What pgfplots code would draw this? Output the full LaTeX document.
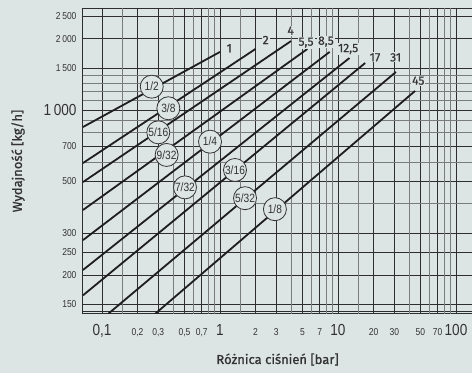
\documentclass[border=0pt]{standalone}
\usepackage{fontspec}
\usepackage{pgfplots}
\pgfplotsset{compat=1.18}
\setmainfont{Fira Sans}
\newfontfamily\narrowfont[FakeStretch=0.85]{Liberation Sans}
\newfontfamily\titlefont[FakeBold=1]{Fira Sans}
\newfontfamily\labfont[FakeBold=0.6]{Fira Sans}
\definecolor{bgc}{HTML}{DDE4E4}
\definecolor{griddark}{HTML}{2E2E2E}
\definecolor{gridgray}{HTML}{7A7C7C}
\definecolor{linec}{HTML}{1E1E1E}
\definecolor{txt}{HTML}{333333}
\begin{document}
\begin{tikzpicture}
\useasboundingbox (-83pt,-59pt) rectangle (389pt,314pt);
\fill[bgc] (-83pt,-59pt) rectangle (389pt,314pt);
\begin{axis}[
  at={(0,0)}, anchor=south west,
  scale only axis, width=389pt, height=306pt,
  xmode=log, ymode=log,
  xmin=0.069, xmax=136.7, ymin=136.7, ymax=2704,
  axis x line*=bottom, axis y line*=left,
  axis line style={-, griddark, line width=1pt},
  major tick length=0pt, tick style={draw=none},
  grid=major,
  major grid style={griddark, line width=0.9pt},
  xtick={0.1,0.2,0.3,0.5,0.7,1,2,3,5,7,10,20,30,50,70,100},
  xticklabels={{\fontsize{16}{16}\selectfont 0,1},{0,2},{0,3},{0,5},{0,7},{\fontsize{16}{16}\selectfont 1},2,3,5,7,{\fontsize{16}{16}\selectfont 10},20,30,50,70,{\fontsize{16}{16}\selectfont 100}},
  extra x ticks={0.15,0.4,0.6,0.8,0.9,1.5,4,6,8,9,15,40,60,80,90},
  extra x tick labels={},
  extra x tick style={major grid style={gridgray, line width=0.9pt}},
  ytick={140,150,200,250,300,500,700,1000,1500,2000,2500,2704},
  yticklabels={,150,200,250,300,500,700,{\fontsize{16}{16}\selectfont 1\,000},{1\,500},{2\,000},{2\,500},},
  extra y ticks={400,600,800,900,1100,1200,1300,1400},
  extra y tick labels={},
  extra y tick style={major grid style={gridgray, line width=0.9pt}},
  tick label style={font=\narrowfont\fontsize{10}{12}\selectfont, text=txt},
  xticklabel style={anchor=base, yshift=-22pt},
  yticklabel style={anchor=east, xshift=-3pt},
  xlabel={Różnica ciśnień [bar]},
  ylabel={Wydajność [kg/h]},
  xlabel style={font=\titlefont\fontsize{13}{13}\selectfont, text=txt, at={(axis description cs:0.5,-0.1634)}, anchor=base},
  ylabel style={font=\titlefont\fontsize{13}{13}\selectfont, text=txt, at={(axis description cs:-0.157,0.5)}, anchor=base},
  clip=true,
]
\tikzset{ln/.style={line width=1.8pt, color=linec, solid, mark=none}}
% 1/2 -> 1 bar
\addplot[ln] coordinates {(0.069,847) (1,1762)};
% 3/8 -> 2 bar
\addplot[ln] coordinates {(0.069,596) (2,1813)};
% 5/16 -> 4 bar
\addplot[ln] coordinates {(0.069,495) (4,1959)};
% 9/32 -> 5,5 bar
\addplot[ln] coordinates {(0.069,377) (5.5,1813)};
% 1/4 -> 8,5 bar
\addplot[ln] coordinates {(0.069,281) (8.5,1762)};
% 7/32 -> 12,5 bar
\addplot[ln] coordinates {(0.069,210) (12.5,1660)};
% 3/16 -> 17 bar
\addplot[ln] coordinates {(0.069,164) (17,1581)};
% 5/32 -> 31 bar
\addplot[ln] coordinates {(0.1124,136.7) (31,1449)};
% 1/8 -> 45 bar
\addplot[ln] coordinates {(0.281,136.7) (45,1204)};

\tikzset{circ/.style={circle, draw=txt, line width=0.8pt, fill=bgc, minimum size=23pt, inner sep=0.5pt, font=\narrowfont\fontsize{12}{12}\selectfont, text=txt},
         endl/.style={fill=bgc, inner sep=1pt, font=\labfont\fontsize{12}{12}\selectfont, text=txt}}
\node[circ] at (axis cs:0.264,1255) {1/2};
\node[circ] at (axis cs:0.365,1017) {3/8};
\node[circ] at (axis cs:0.300,804) {5/16};
\node[circ] at (axis cs:0.353,645) {9/32};
\node[circ] at (axis cs:0.823,734) {1/4};
\node[circ] at (axis cs:0.505,470) {7/32};
\node[circ] at (axis cs:1.34,557) {3/16};
\node[circ] at (axis cs:1.63,423) {5/32};
\node[circ] at (axis cs:2.92,380) {1/8};

\node[endl] at (axis cs:1.199,1826) {1};
\node[endl] at (axis cs:2.44,1980) {2};
\node[endl] at (axis cs:3.97,2168) {4};
\node[endl] at (axis cs:5.36,1928) {5,5};
\node[endl] at (axis cs:7.91,1947) {8,5};
\node[endl] at (axis cs:12.2,1813) {12,5};
\node[endl] at (axis cs:20.6,1671) {17};
\node[endl] at (axis cs:30.8,1671) {31};
\node[endl] at (axis cs:47.9,1331) {45};
\end{axis}
\end{tikzpicture}
\end{document}
